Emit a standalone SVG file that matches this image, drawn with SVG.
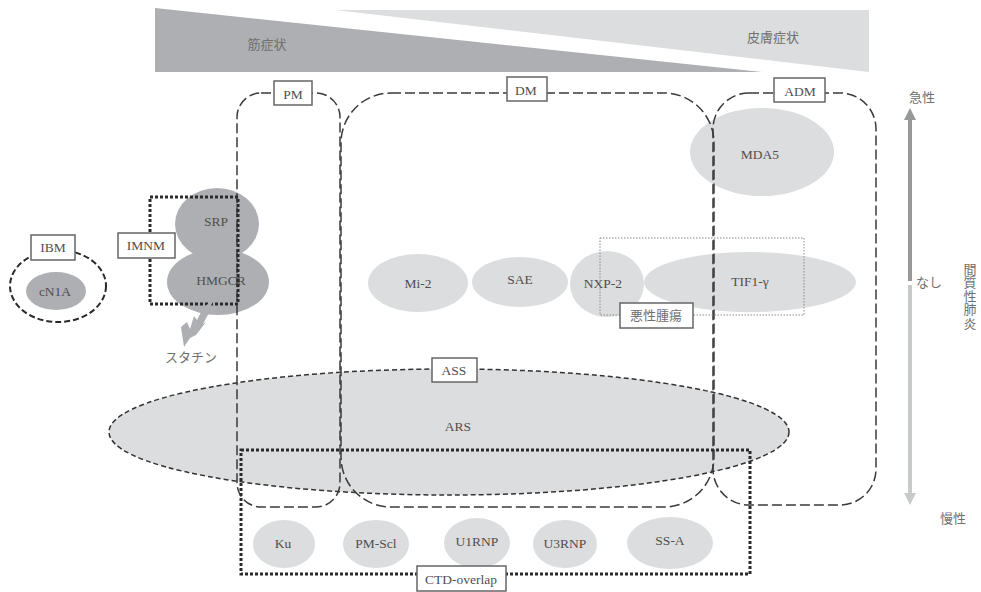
<svg xmlns="http://www.w3.org/2000/svg" width="981" height="592" viewBox="0 0 981 592">
<style>
text{font-family:"Liberation Serif","Noto Sans CJK JP",serif;font-size:13.5px;fill:#4f4f4f;text-anchor:middle}
.jp{font-family:"Noto Sans CJK JP",sans-serif;font-size:13px;fill:#707070}
.lt{fill:#dcddde}
.dk{fill:#aeafb2}
.box{fill:#fff;stroke:#666;stroke-width:1.5}
.dash{fill:none;stroke:#3a3a3a;stroke-width:1.5;stroke-dasharray:10 4}
.sdash{fill:none;stroke:#333;stroke-width:1.5;stroke-dasharray:5 3}
.dot{fill:none;stroke:#2a2a2a;stroke-width:3;stroke-dasharray:3 2}
</style>
<g id="symptom-scale">
<polygon points="155,8 155,72 762,72" fill="#aeafb2"/>
<polygon points="335,10 869,10 869,72" class="lt"/>
<text class="jp" x="267" y="49">筋症状</text>
<text class="jp" x="773" y="42">皮膚症状</text>
</g>
<g id="node-ARS"><ellipse cx="449" cy="432" rx="340" ry="63" class="lt"/><ellipse cx="449" cy="432" rx="340" ry="63" class="sdash"/><text x="458" y="431">ARS</text></g>
<g id="node-MDA5"><ellipse cx="762" cy="152" rx="72" ry="44" class="lt"/><text x="760" y="159">MDA5</text></g>
<g id="node-SRP"><ellipse cx="217" cy="224" rx="42" ry="36" class="dk"/><text x="216" y="226">SRP</text></g>
<g id="node-HMGCR"><ellipse cx="218" cy="282" rx="51" ry="33" class="dk"/><text x="221" y="285">HMGCR</text></g>
<g id="node-cN1A"><ellipse cx="56" cy="291" rx="30" ry="19" class="dk"/><text x="55" y="296">cN1A</text></g>
<g id="node-Mi-2"><ellipse cx="418" cy="283" rx="50" ry="29" class="lt"/><text x="418" y="288">Mi-2</text></g>
<g id="node-SAE"><ellipse cx="520" cy="282" rx="48" ry="25" class="lt"/><text x="520" y="284">SAE</text></g>
<g id="node-NXP-2"><ellipse cx="607" cy="284" rx="37" ry="33" class="lt"/><text x="603" y="288">NXP-2</text></g>
<g id="node-TIF1"><ellipse cx="750" cy="282" rx="106" ry="30" class="lt"/><text x="750" y="286">TIF1-γ</text></g>
<g id="node-Ku"><ellipse cx="284" cy="544" rx="31" ry="24" class="lt"/><text x="283" y="548">Ku</text></g>
<g id="node-PM-Scl"><ellipse cx="376" cy="544" rx="33" ry="24" class="lt"/><text x="376" y="548">PM-Scl</text></g>
<g id="node-U1RNP"><ellipse cx="477" cy="543" rx="33" ry="25" class="lt"/><text x="477" y="546">U1RNP</text></g>
<g id="node-U3RNP"><ellipse cx="565" cy="544" rx="32" ry="24" class="lt"/><text x="565" y="548">U3RNP</text></g>
<g id="node-SS-A"><ellipse cx="670" cy="543" rx="43" ry="26" class="lt"/><text x="670" y="545">SS-A</text></g>
<g id="connectors">
<rect x="237" y="93" width="103" height="414" rx="24" class="dash"/>
<rect x="341" y="93" width="373" height="414" rx="50" class="dash"/>
<rect x="713" y="93" width="163" height="412" rx="36" class="dash"/>
<ellipse cx="58" cy="286" rx="48" ry="36" fill="none" stroke="#2a2a2a" stroke-width="2" stroke-dasharray="6 3"/>
<rect x="150" y="197" width="88" height="107" class="dot"/>
<rect x="241" y="450" width="509" height="124" class="dot"/>
<rect x="600" y="238" width="204" height="77" fill="none" stroke="#888" stroke-width="1" stroke-dasharray="1.5 1.5"/>
<polygon points="215,298 207,313 210,311 203,324 206,322 196,335 190,338 184,347 181,327 187,322 190,329 194,316 197,320 203,308" fill="#aeafb2"/>
<line x1="910" y1="281" x2="910" y2="118" stroke="#97989b" stroke-width="4"/>
<polygon points="910,108 916,120 904,120" fill="#97989b"/>
<line x1="910" y1="285" x2="910" y2="495" stroke="#c8c9cb" stroke-width="4"/>
<polygon points="910,505 904,493 916,493" fill="#c8c9cb"/>
</g>
<g id="label-PM"><rect x="274" y="81" width="38" height="24" class="box"/><text x="293" y="99">PM</text></g>
<g id="label-DM"><rect x="507" y="77" width="40" height="24" class="box"/><text x="526" y="95">DM</text></g>
<g id="label-ADM"><rect x="774" y="78" width="51" height="24" class="box"/><text x="800" y="96">ADM</text></g>
<g id="label-IBM"><rect x="31" y="235" width="44" height="25" class="box"/><text x="53" y="252">IBM</text></g>
<g id="label-IMNM"><rect x="118" y="233" width="57" height="25" class="box"/><text x="146" y="250">IMNM</text></g>
<g id="label-ASS"><rect x="432" y="358" width="45" height="24" class="box"/><text x="454" y="375">ASS</text></g>
<g id="label-tumor"><rect x="620" y="303" width="73" height="25" class="box"/><text class="jp" x="656" y="320">悪性腫瘍</text></g>
<g id="label-CTD"><rect x="417" y="566" width="89" height="25" class="box"/><text x="461" y="584">CTD-overlap</text></g>
<g id="axis-labels">
<text class="jp" x="191" y="362">スタチン</text>
<text class="jp" x="922" y="102">急性</text>
<text class="jp" x="929" y="287">なし</text>
<text class="jp" x="953" y="523">慢性</text>
<text class="jp" x="970" y="296" style="writing-mode:vertical-rl;letter-spacing:.5px">間質性肺炎</text>
</g>
</svg>
